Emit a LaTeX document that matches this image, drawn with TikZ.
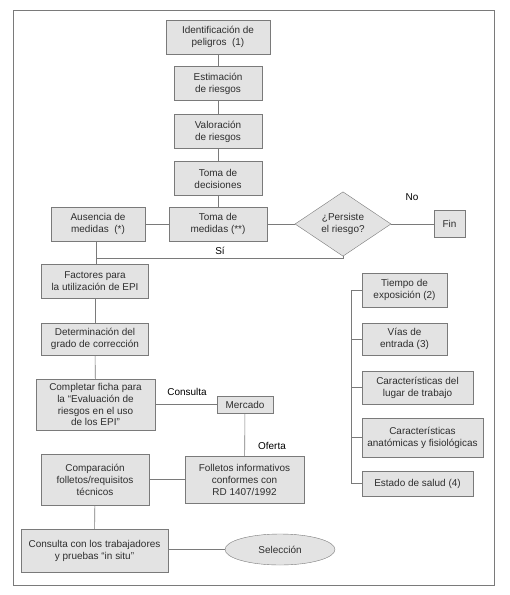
\documentclass[tikz,border=0pt]{standalone}
\usepackage{fontspec}
\setmainfont{Liberation Sans}
\usepackage{tikz}
\usetikzlibrary{shapes.geometric, positioning, calc}
\definecolor{boxgray}{HTML}{E3E3E3}
\definecolor{linegray}{HTML}{7A7A7A}
\definecolor{textgray}{HTML}{2E2E2E}

\begin{document}
\begin{tikzpicture}[
    x=1bp, y=-1bp,
    stage/.style={rectangle, draw=linegray, fill=boxgray, inner sep=0pt, align=center, text=textgray, font=\fontsize{10}{12}\selectfont},
    decision/.style={diamond, draw=linegray, fill=boxgray, inner sep=0pt, align=center, text=textgray, font=\fontsize{10}{12}\selectfont},
    finalstep/.style={ellipse, draw=linegray, fill=boxgray, inner sep=0pt, text=textgray, font=\fontsize{10}{12}\selectfont},
    tag/.style={text=black, font=\fontsize{10}{12}\selectfont},
    link/.style={draw=linegray, line width=0.6pt}
]
\useasboundingbox (0,0) rectangle (510,595);
\draw[linegray, line width=0.8pt] (13,10) rectangle (494,585);

% Risk evaluation chain
\node[stage, minimum width=104bp, minimum height=34bp] (ident) at (218,37) {Identificación de\\peligros\ \ (1)};
\node[stage, minimum width=88bp, minimum height=34bp] (estim) at (218,83.5) {Estimación\\de riesgos};
\node[stage, minimum width=88bp, minimum height=34bp] (valor) at (218,131.5) {Valoración\\de riesgos};
\node[stage, minimum width=88bp, minimum height=34bp] (decis) at (218,178.5) {Toma de\\decisiones};

% Measures row
\node[stage, minimum width=98bp, minimum height=34bp] (medidas) at (218,224) {Toma de\\medidas (**)};
\node[stage, minimum width=94bp, minimum height=34bp] (ausencia) at (98,224) {Ausencia de\\medidas\ \ (*)};
\node[decision, minimum width=96bp, minimum height=56bp] (riesgo) at (343,224) {¿Persiste\\el riesgo?};
\node[stage, minimum width=31bp, minimum height=27bp] (fin) at (449.5,224) {Fin};
\node[tag] (no) at (412,197) {No};
\node[tag] (si) at (220,251) {Sí};

% EPI column
\node[stage, minimum width=107bp, minimum height=34bp] (factores) at (95,281) {Factores para\\la utilización de EPI};
\node[stage, minimum width=107bp, minimum height=32bp] (determ) at (95,339) {Determinación del\\grado de corrección};
\node[stage, minimum width=119bp, minimum height=51bp] (ficha) at (95.5,404.5) {Completar ficha para\\la “Evaluación de\\riesgos en el uso\\de los EPI”};
\node[stage, minimum width=108bp, minimum height=51bp] (compar) at (95,479.5) {Comparación\\folletos/requisitos\\técnicos};
\node[stage, minimum width=147bp, minimum height=43bp] (trabaj) at (94.5,550.5) {Consulta con los trabajadores\\y pruebas “in situ”};

% Market
\node[stage, minimum width=56bp, minimum height=17bp] (mercado) at (245,404.5) {Mercado};
\node[stage, minimum width=119bp, minimum height=47bp] (folletos) at (244.5,479.5) {Folletos informativos\\conformes con\\RD 1407/1992};
\node[finalstep, minimum width=110bp, minimum height=31bp] (seleccion) at (280,549.5) {Selección};
\node[tag] (consulta) at (187,392) {Consulta};
\node[tag] (oferta) at (272,446) {Oferta};

% Factors column
\node[stage, minimum width=85bp, minimum height=34bp] (tiempo) at (404.5,290) {Tiempo de\\exposición (2)};
\node[stage, minimum width=85bp, minimum height=32bp] (vias) at (404.5,339) {Vías de\\entrada (3)};
\node[stage, minimum width=111bp, minimum height=33bp] (lugar) at (417.5,387.5) {Características del\\lugar de trabajo};
\node[stage, minimum width=121bp, minimum height=39bp] (anatom) at (422.5,437.5) {Características\\anatómicas y fisiológicas};
\node[stage, minimum width=111bp, minimum height=25bp] (salud) at (417.5,483.5) {Estado de salud (4)};

% Connectors
\draw[link] (ident) -- (estim);
\draw[link] (estim) -- (valor);
\draw[link] (valor) -- (decis);
\draw[link] (decis) -- (medidas);
\draw[link] (ausencia) -- (medidas);
\draw[link] (medidas) -- (riesgo);
\draw[link] (riesgo) -- (fin);
\coordinate (siturn) at (96,258);
\draw[link] (ausencia.south -| siturn) -- (factores.north -| siturn);
\draw[link] (riesgo.south) |- (siturn);
\draw[link] (factores) -- (determ);
\draw[link] (determ) -- (ficha);
\draw[link] (ficha) -- (mercado);
\draw[link] (mercado) -- (folletos);
\draw[link] (folletos) -- (compar);
\draw[link] (compar) -- (trabaj);
\draw[link] (trabaj.east |- seleccion) -- (seleccion);

\coordinate (trunktop) at (351,290);
\coordinate (trunkbot) at (351,483.5);
\draw[link] (trunktop) -- (trunkbot);
\foreach \f in {tiempo, vias, lugar, anatom, salud}
  \draw[link] (\f.west) -- (\f.west -| trunktop);

\end{tikzpicture}
\end{document}
